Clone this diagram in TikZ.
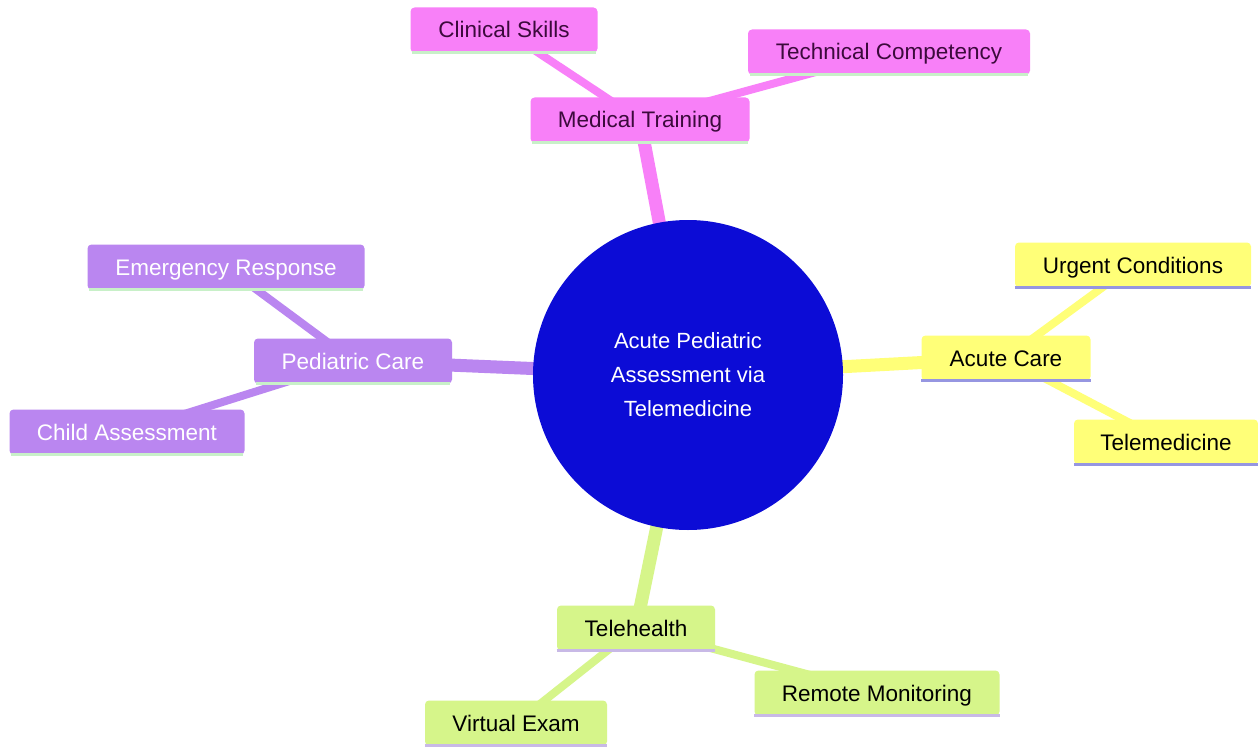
\documentclass[tikz,border=0pt]{standalone}
\usepackage{fontspec}
\setmainfont{Liberation Sans}
\definecolor{pinkF}{RGB}{248,128,248}
\definecolor{purpF}{RGB}{186,134,240}
\definecolor{yelF}{RGB}{255,255,120}
\definecolor{grnF}{RGB}{214,245,138}
\definecolor{rootF}{RGB}{12,12,214}
\definecolor{ulGreen}{RGB}{200,240,200}
\definecolor{ulBlue}{RGB}{150,150,225}
\definecolor{ulLav}{RGB}{200,185,230}
\definecolor{pinkT}{RGB}{60,10,60}
\begin{document}
\begin{tikzpicture}[x=1pt,y=-1pt,
  every node/.style={font=\fontsize{22.5}{27}\selectfont},
  box/.style={rectangle, rounded corners=4pt, minimum height=45pt, inner sep=0pt,
              text height=16pt, text depth=0pt},
  pinkbox/.style={box, fill=pinkF, text=pinkT},
  purpbox/.style={box, fill=purpF, text=white},
  yelbox/.style={box, fill=yelF, text=black},
  grnbox/.style={box, fill=grnF, text=black},
  rootedge/.style={line width=13pt},
  subedge/.style={line width=8pt},
  ul/.style={line width=3.5pt}
]
\useasboundingbox (0,0) rectangle (1258,749);
\fill[white] (0,0) rectangle (1258,749);

% coordinates of centres
\coordinate (cR) at (688,375);
\coordinate (cMT) at (640,120);
\coordinate (cCS) at (504,30);
\coordinate (cTC) at (889,52);
\coordinate (cPC) at (353,361);
\coordinate (cER) at (226,267);
\coordinate (cCA) at (127,432);
\coordinate (cAC) at (1006,358);
\coordinate (cUC) at (1133,265);
\coordinate (cTM) at (1166,442);
\coordinate (cTH) at (636,628);
\coordinate (cRM) at (877,693);
\coordinate (cVE) at (516,723);

% edges
\draw[rootedge, pinkF] (cR) -- (cMT);
\draw[rootedge, purpF] (cR) -- (cPC);
\draw[rootedge, yelF] (cR) -- (cAC);
\draw[rootedge, grnF] (cR) -- (cTH);
\draw[subedge, pinkF] (cMT) -- (cCS);
\draw[subedge, pinkF] (cMT) -- (cTC);
\draw[subedge, purpF] (cPC) -- (cER);
\draw[subedge, purpF] (cPC) -- (cCA);
\draw[subedge, yelF] (cAC) -- (cUC);
\draw[subedge, yelF] (cAC) -- (cTM);
\draw[subedge, grnF] (cTH) -- (cRM);
\draw[subedge, grnF] (cTH) -- (cVE);

% root
\node[circle, fill=rootF, minimum size=310pt, text=white, align=center,
      font=\fontsize{22}{34}\selectfont] (root) at (cR)
  {Acute Pediatric\\Assessment via\\ Telemedicine};

% level 1
\node[pinkbox, minimum width=219pt] (mt) at (cMT) {Medical Training};
\node[purpbox, minimum width=198pt] (pc) at (cPC) {Pediatric Care};
\node[yelbox, minimum width=169pt] (ac) at (cAC) {Acute Care};
\node[grnbox, minimum width=158pt] (th) at (cTH) {Telehealth};

% level 2
\node[pinkbox, minimum width=187pt] (cs) at (cCS) {Clinical Skills};
\node[pinkbox, minimum width=282pt] (tc) at (cTC) {Technical Competency};
\node[purpbox, minimum width=277pt] (er) at (cER) {Emergency Response};
\node[purpbox, minimum width=235pt] (ca) at (cCA) {Child Assessment};
\node[yelbox, minimum width=236pt] (uc) at (cUC) {Urgent Conditions};
\node[yelbox, minimum width=184pt] (tm) at (cTM) {Telemedicine};
\node[grnbox, minimum width=245pt] (rm) at (cRM) {Remote Monitoring};
\node[grnbox, minimum width=182pt] (ve) at (cVE) {Virtual Exam};

% underlines
\foreach \n in {mt,cs,tc,pc,er,ca}{\draw[ul, ulGreen] ([xshift=2pt]\n.south west) -- ([xshift=-2pt]\n.south east);}
\foreach \n in {ac,uc,tm}{\draw[ul, ulBlue] (\n.south west) -- (\n.south east);}
\foreach \n in {th,rm,ve}{\draw[ul, ulLav] (\n.south west) -- (\n.south east);}
\end{tikzpicture}
\end{document}
